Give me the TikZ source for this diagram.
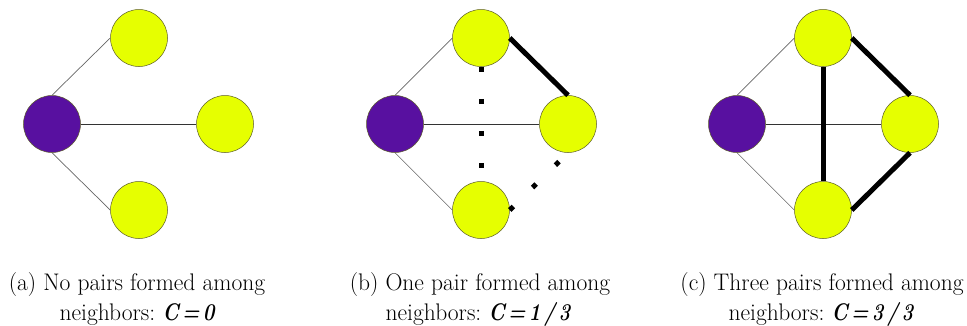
\documentclass[tikz,border=0pt]{standalone}
\usepackage{fontspec}
\definecolor{pur}{RGB}{88,16,160}
\definecolor{yel}{RGB}{230,255,0}
\definecolor{rim}{RGB}{90,90,40}
\newcommand\capline[1]{\scalebox{0.98}[1]{#1}}
\newcommand\capval[1]{\scalebox{0.82}[1]{\bfseries\itshape #1}}
\begin{document}
\begin{tikzpicture}[x=1pt,y=-1pt,
  ego/.style={circle,minimum size=57pt,inner sep=0pt,draw=rim,line width=0.5pt,fill=pur},
  nb/.style={circle,minimum size=57pt,inner sep=0pt,draw=rim,line width=0.5pt,fill=yel},
  spoke/.style={draw=gray!80!black,line width=0.7pt},
  hspoke/.style={draw=black!80,line width=0.8pt},
  tie/.style={draw=black,line width=5pt},
  gap/.style={draw=black,line width=5pt,dash pattern=on 5pt off 27pt},
  captext/.style={anchor=base,font=\fontsize{24}{29}\selectfont,inner sep=0pt}]
\useasboundingbox (0,0) rectangle (967,325);
% panel a
\node[ego] (a0) at (52,124) {};
\node[nb] (a1) at (139,38) {};
\node[nb] (a2) at (225,124) {};
\node[nb] (a3) at (139,210) {};
\draw[spoke] (a0.north) -- (a1.west);
\draw[hspoke] (a0.east) -- (a2.west);
\draw[spoke] (a0.south) -- (a3.west);
% panel b
\node[ego] (b0) at (395,124) {};
\node[nb] (b1) at (481,38) {};
\node[nb] (b2) at (568,124) {};
\node[nb] (b3) at (481,210) {};
\draw[spoke] (b0.north) -- (b1.west);
\draw[hspoke] (b0.east) -- (b2.west);
\draw[spoke] (b0.south) -- (b3.west);
\draw[tie] (b1.east) -- (b2.north);
\draw[gap] (b1.south) -- (b3.north);
\draw[gap] (b3.east) -- (b2.south);
% panel c
\node[ego] (c0) at (737,124) {};
\node[nb] (c1) at (823,38) {};
\node[nb] (c2) at (910,124) {};
\node[nb] (c3) at (823,210) {};
\draw[spoke] (c0.north) -- (c1.west);
\draw[hspoke] (c0.east) -- (c2.west);
\draw[spoke] (c0.south) -- (c3.west);
\draw[tie] (c1.south) -- (c3.north);
\draw[tie] (c1.east) -- (c2.north);
\draw[tie] (c3.east) -- (c2.south);
% captions
\node[captext] (ta1) at (137,290) {\capline{(a) No pairs formed among}};
\node[captext] (ta2) at (137,320) {\capline{neighbors:} \capval{C\,=\,0}};
\node[captext] (tb1) at (480,290) {\capline{(b) One pair formed among}};
\node[captext] (tb2) at (478,320) {\capline{neighbors:} \capval{C\,=\,1\,/\,3}};
\node[captext] (tc1) at (822,290) {\capline{(c) Three pairs formed among}};
\node[captext] (tc2) at (821,320) {\capline{neighbors:} \capval{C\,=\,3\,/\,3}};
\end{tikzpicture}
\end{document}
